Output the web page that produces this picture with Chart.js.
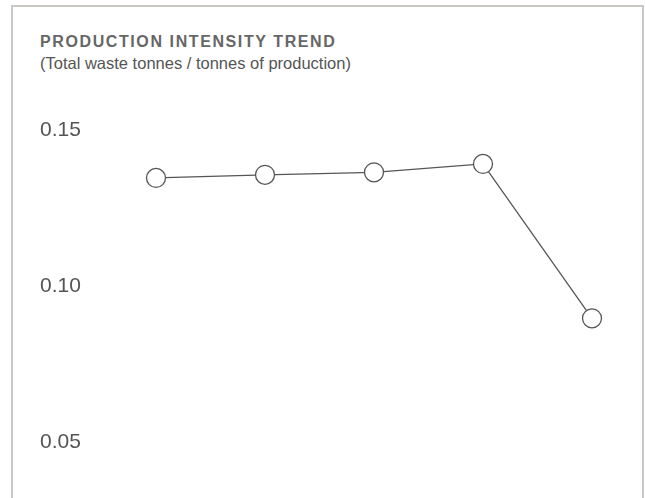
<!DOCTYPE html>
<html>
<head>
<meta charset="utf-8">
<script src="https://cdn.jsdelivr.net/npm/chart.js@4"></script>
<style>
  html, body { margin: 0; padding: 0; background: #fff; overflow: hidden; }
  body { width: 645px; height: 498px; position: relative; }
  .frame {
    position: absolute; left: 11px; top: 5px; width: 633px; height: 700px;
    border: 2px solid #cbc7c2; border-bottom: none; box-sizing: border-box;
  }
  .title {
    position: absolute; left: 40px; top: 33px;
    font: bold 16px "Liberation Sans", Arial, sans-serif;
    letter-spacing: 1.6px; color: #666;
  }
  .subtitle {
    position: absolute; left: 40px; top: 54px;
    font: 16.5px "Liberation Sans", Arial, sans-serif; color: #555;
  }
  .wrap { position: absolute; left: 0; top: 0; width: 645px; height: 640px; }
</style>
</head>
<body>
<div class="frame"></div>
<div class="title">PRODUCTION INTENSITY TREND</div>
<div class="subtitle">(Total waste tonnes / tonnes of production)</div>
<div class="wrap"><canvas id="myChart"></canvas></div>
<script>
let years = ['2015', '2016', '2017', '2018', '2019'];
let intensity = [0.1348, 0.1358, 0.1366, 0.1393, 0.0898];
let yTicks = [0, 0.05, 0.10, 0.15];

let ctx = document.getElementById('myChart').getContext('2d');

let myChart = new Chart(ctx, {
  type: 'line',
  data: {
    labels: years,
    datasets: [{
      data: intensity,
      borderColor: '#555',
      borderWidth: 1.3,
      pointRadius: 9.5,
      pointHoverRadius: 9.5,
      pointBackgroundColor: '#fff',
      pointBorderColor: '#555',
      pointBorderWidth: 1.3,
      tension: 0,
      clip: false
    }]
  },
  options: {
    responsive: true,
    maintainAspectRatio: false,
    animation: false,
    layout: {
      padding: { left: 40, right: 53, top: 130.5, bottom: 41.5 }
    },
    plugins: {
      legend: { display: false },
      tooltip: { enabled: false }
    },
    scales: {
      x: { display: false },
      y: {
        min: yTicks[0],
        max: yTicks[yTicks.length - 1],
        border: { display: false },
        grid: { display: false },
        afterBuildTicks: (scale) => {
          scale.ticks = yTicks.map(v => ({ value: v }));
        },
        afterFit: (scale) => {
          scale.width = 116;
        },
        ticks: {
          crossAlign: 'far',
          color: '#555',
          font: { family: '"Liberation Sans", Arial, sans-serif', size: 21 },
          callback: (value) => value.toFixed(2)
        }
      }
    }
  }
});
</script>
</body>
</html>
